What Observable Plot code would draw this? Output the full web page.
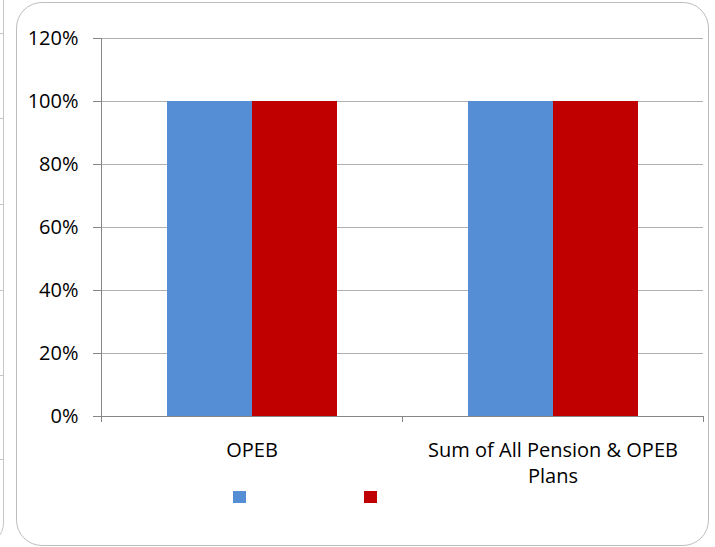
<!DOCTYPE html>
<html><head><meta charset="utf-8">
<script src="https://cdn.jsdelivr.net/npm/d3@7"></script>
<script src="https://cdn.jsdelivr.net/npm/@observablehq/plot@0.6"></script>
<style>
body{margin:0;background:#fff;}
#wrap{position:relative;width:715px;height:547px;overflow:hidden;font-family:"Open Sans",sans-serif;}
#ghost{position:absolute;left:-400px;top:-30px;width:404px;height:575px;border:1px solid #c6c6c6;border-radius:22px;box-sizing:border-box;}
#frame{position:absolute;left:16px;top:2px;width:693px;height:544px;border:1px solid #bdbdbd;border-radius:26px;box-sizing:border-box;}
#chart{position:absolute;left:0;top:0;}
.sw{position:absolute;width:13px;height:12px;top:491px;}
</style></head>
<body><div id="wrap"><div id="ghost"></div><div id="frame"></div><div id="chart"></div></div>
<script>
const categories = ["OPEB", "Sum of All Pension & OPEB Plans"];
const categoryLabels = ["OPEB", "Sum of All Pension & OPEB\nPlans"];
const seriesKeys = ["series1", "series2"];
const seriesColors = ["#558ED5", "#C00000"];
const series1Values = [1.0, 1.0];
const series2Values = [1.0, 1.0];
const yTicks = [0, 0.2, 0.4, 0.6, 0.8, 1.0, 1.2];
const ghostTicks = [33, 118, 204, 290, 375, 459];

const data = categories.flatMap((c, i) => [
  {category: c, series: seriesKeys[0], value: series1Values[i]},
  {category: c, series: seriesKeys[1], value: series2Values[i]}
]);

const font = '"Open Sans", sans-serif';
const plot = Plot.plot({
  width: 715, height: 547,
  marginLeft: 101, marginRight: 12, marginTop: 38, marginBottom: 131,
  style: {fontFamily: font, fontSize: "20px", color: "#000", background: "transparent", overflow: "visible"},
  fx: {domain: categories, padding: 0, label: null, axis: null},
  x: {domain: seriesKeys, paddingInner: 0, paddingOuter: 0.77, axis: null},
  y: {domain: [0, 1.2], label: null},
  color: {domain: seriesKeys, range: seriesColors},
  marks: [
    Plot.gridY(yTicks, {stroke: "#b0b0b0", strokeOpacity: 1}),
    Plot.barY(data, {fx: "category", x: "series", y: "value", fill: "series"}),
    Plot.axisY(yTicks, {tickFormat: d => Math.round(d * 100) + "%", tickSize: 8, tickPadding: 15, stroke: "#868686", fill: "#000", label: null}),
    Plot.axisFx({anchor: "bottom", tickSize: 0, tickPadding: 22, lineHeight: 1.3, tickFormat: d => categoryLabels[categories.indexOf(d)], label: null, fill: "#000"})
  ]
});
document.getElementById("chart").appendChild(plot);

// axis lines and category ticks drawn from Plot's scales
const svg = d3.select(plot.tagName.toLowerCase() === "svg" ? plot : plot.querySelector("svg"));
const y = plot.scale("y"), fx = plot.scale("fx");
const y0 = y.apply(0), yTop = y.apply(1.2);
const x0 = fx.range[0], x1 = fx.range[1];
const g = svg.append("g").attr("stroke", "#868686").attr("shape-rendering", "crispEdges");
g.append("line").attr("x1", x0).attr("x2", x0).attr("y1", yTop).attr("y2", y0 + 6);
g.append("line").attr("x1", x0).attr("x2", x1).attr("y1", y0).attr("y2", y0);
categories.forEach(c => {
  const b = fx.apply(c) + (fx.bandwidth || 0);
  g.append("line").attr("x1", b).attr("x2", b).attr("y1", y0).attr("y2", y0 + 6);
});

// ghost neighbour chart stubs
const wrap = document.getElementById("wrap");
ghostTicks.forEach(t => {
  const d = document.createElement("div");
  d.style.cssText = `position:absolute;left:0;top:${t}px;width:3px;height:1px;background:#c6c6c6`;
  wrap.appendChild(d);
});

// legend swatches (no labels in the reference)
const legendX = [233, 364];
seriesColors.forEach((c, i) => {
  const d = document.createElement("div");
  d.className = "sw";
  d.style.left = legendX[i] + "px";
  d.style.background = c;
  wrap.appendChild(d);
});
</script>
</body></html>
